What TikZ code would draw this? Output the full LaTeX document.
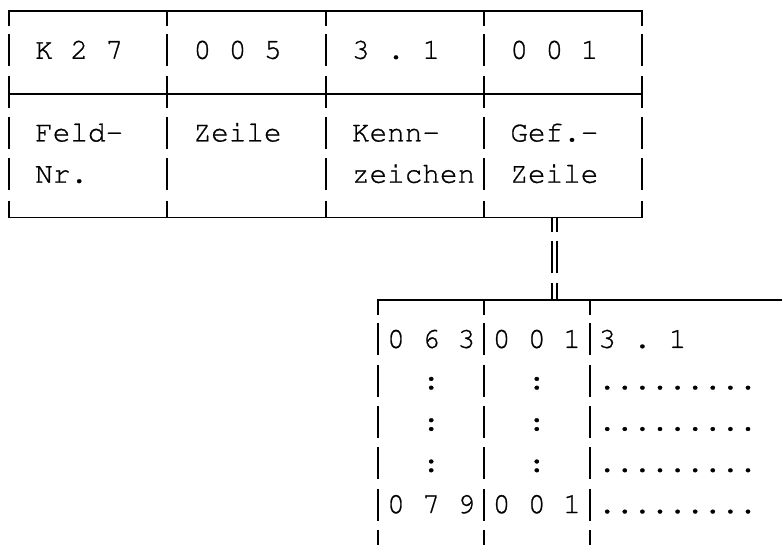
\documentclass[tikz,border=0pt]{standalone}
\usepackage[T1]{fontenc}
\frenchspacing
% character grid: column pitch 17.6pt, row pitch 41.3pt, first row centre at 11pt
\newcommand\cx[1]{8.8+17.6*#1}
\newcommand\cl[1]{17.6*#1}
\newcommand\ry[1]{11+41.3*#1}
\newcommand\gridfont{\fontfamily{pcr}\fontseries{m}\fontshape{n}\fontsize{29.33}{30}\selectfont}
% slightly heavier typewriter strokes (fill + thin outline)
\newcommand\heavyon{\special{pdf:literal direct 2 Tr 0.25 w}}
\newcommand\heavyoff{\special{pdf:literal direct 0 Tr}}
\tikzset{
  rule/.style={line width=1.9pt, line cap=butt, line join=miter, draw=black},
  celltext/.style={anchor=base west, inner sep=0pt, outer sep=0pt,
    font=\gridfont, text=black, execute at begin node=\heavyon, execute at end node=\heavyoff}
}
\begin{document}
\begin{tikzpicture}[x=1pt, y=-1pt]
\clip (0,0) rectangle (782,544);

% ---- upper record: frame and column rules
\draw[rule] ({\cx{0}},{\ry{0}+15}) -- ({\cx{0}},{\ry{0}}) -- ({\cx{36}},{\ry{0}}) -- ({\cx{36}},{\ry{0}+15});
\draw[rule] ({\cx{0}},{\ry{2}}) -- ({\cx{36}},{\ry{2}});
\draw[rule] ({\cx{0}},{\ry{5}-17}) -- ({\cx{0}},{\ry{5}}) -- ({\cx{36}},{\ry{5}}) -- ({\cx{36}},{\ry{5}-17});
\foreach \c in {0,9,18,27,36} {
  \foreach \r in {1,...,4}
    \draw[rule] ({\cx{\c}},{\ry{\r}-18}) -- ++(0,32);
}
\foreach \c in {9,18,27} {
  \draw[rule] ({\cx{\c}},{\ry{0}}) -- ++(0,15);
  \draw[rule] ({\cx{\c}},{\ry{5}-17}) -- ++(0,17);
}

% ---- upper record: field contents
\node[celltext] (f1) at ({\cl{2}},{\ry{1}+6.5}) {K 2 7};
\node[celltext] (f2) at ({\cl{11}},{\ry{1}+6.5}) {0 0 5};
\node[celltext] (f3) at ({\cl{20}},{\ry{1}+6.5}) {3 . 1};
\node[celltext] (f4) at ({\cl{29}},{\ry{1}+6.5}) {0 0 1};
\node[celltext] (h1a) at ({\cl{2}},{\ry{3}+6.5}) {Feld-};
\node[celltext] (h2a) at ({\cl{11}},{\ry{3}+6.5}) {Zeile};
\node[celltext] (h3a) at ({\cl{20}},{\ry{3}+6.5}) {Kenn-};
\node[celltext] (h4a) at ({\cl{29}},{\ry{3}+6.5}) {Gef.-};
\node[celltext] (h1b) at ({\cl{2}},{\ry{4}+6.5}) {Nr.};
\node[celltext] (h3b) at ({\cl{20}},{\ry{4}+6.5}) {zeichen};
\node[celltext] (h4b) at ({\cl{29}},{\ry{4}+6.5}) {Zeile};

% ---- double link from the upper record down to the table
\coordinate (linkTop) at ({\cx{31}},{\ry{5}});
\coordinate (linkBot) at ({\cx{31}},{\ry{7}});
\foreach \dx in {-2.5,2.5} {
  \draw[rule] ([xshift=\dx pt]linkTop) -- ++(0,14.5);
  \draw[rule] ([xshift=\dx pt]linkTop) ++(0,{41.3-18}) -- ++(0,32);
  \draw[rule] ([xshift=\dx pt]linkBot) -- ++(0,-17);
}

% ---- lower table: top rule and column rules
\draw[rule] ({\cx{21}},{\ry{7}+15}) -- ({\cx{21}},{\ry{7}}) -- (800,{\ry{7}});
\foreach \c in {21,27,33} {
  \foreach \r in {8,...,12}
    \draw[rule] ({\cx{\c}},{\ry{\r}-18}) -- ++(0,32);
  \draw[rule] ({\cx{\c}},{\ry{13}-18}) -- ++(0,32);
}
\foreach \c in {27,33}
  \draw[rule] ({\cx{\c}},{\ry{7}}) -- ++(0,15);

% ---- lower table: entries
\node[celltext] (t1a) at ({\cl{22}},{\ry{8}+6.5}) {0 6 3};
\node[celltext] (t1b) at ({\cl{28}},{\ry{8}+6.5}) {0 0 1};
\node[celltext] (t1c) at ({\cl{34}},{\ry{8}+6.5}) {3 . 1};
\foreach \r in {9,10,11} {
  \node[celltext] (c\r a) at ({\cl{24}},{\ry{\r}+6.5}) {:};
  \node[celltext] (c\r b) at ({\cl{30}},{\ry{\r}+6.5}) {:};
  \node[celltext] (c\r c) at ({\cl{34}},{\ry{\r}+6.5}) {.........};
}
\node[celltext] (t2a) at ({\cl{22}},{\ry{12}+6.5}) {0 7 9};
\node[celltext] (t2b) at ({\cl{28}},{\ry{12}+6.5}) {0 0 1};
\node[celltext] (t2c) at ({\cl{34}},{\ry{12}+6.5}) {.........};
\end{tikzpicture}
\end{document}
